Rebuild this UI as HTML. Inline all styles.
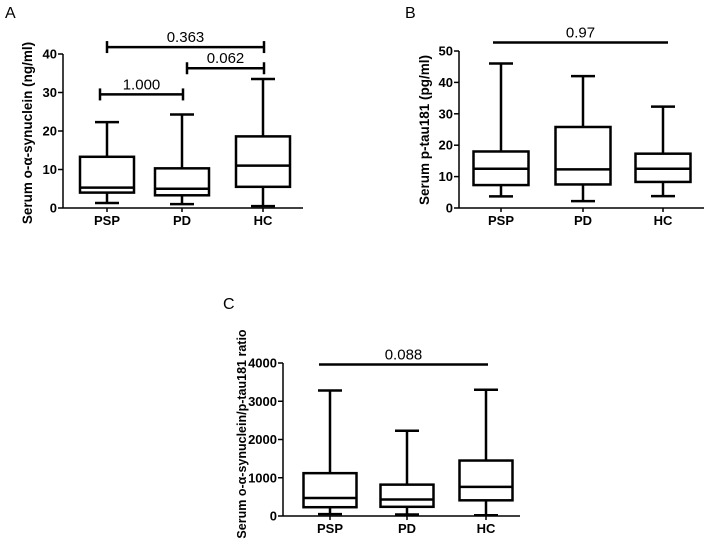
<!DOCTYPE html>
<html><head><meta charset="utf-8">
<style>
html,body{margin:0;padding:0;background:#fff;}
svg{display:block;font-family:"Liberation Sans",Arial,sans-serif;}
.tick{font-size:13px;font-weight:bold;}
.cat{font-size:13px;font-weight:bold;}
.ytitle{font-size:13.5px;font-weight:bold;}
.ytitlec{font-size:12.5px;font-weight:bold;}
.pv{font-size:15px;}
.panel{font-size:16px;}
</style></head>
<body>
<svg id="chart" width="709" height="550" viewBox="0 0 709 550" xmlns="http://www.w3.org/2000/svg"></svg>
<script>
// Panel A data (ng/ml)
const categories = ["PSP","PD","HC"];
const aMin = [1.3, 1.0, 0.5];
const aQ1  = [4.0, 3.3, 5.5];
const aMed = [5.3, 5.0, 11.0];
const aQ3  = [13.3, 10.3, 18.6];
const aMax = [22.3, 24.3, 33.5];
const aTicks = [0,10,20,30,40];
const aCompLabels = ["1.000","0.062","0.363"];
const aCompValues = [29.5, 36.3, 41.8];
// Panel B data (pg/ml)
const bMin = [3.7, 2.2, 3.8];
const bQ1  = [7.3, 7.5, 8.3];
const bMed = [12.5, 12.3, 12.5];
const bQ3  = [18.0, 25.8, 17.3];
const bMax = [46.0, 42.0, 32.3];
const bTicks = [0,10,20,30,40,50];
const bCompLabels = ["0.97"];
const bCompValues = [52.7];
// Panel C data (ratio)
const cMin = [50, 40, 20];
const cQ1  = [230, 240, 410];
const cMed = [470, 430, 760];
const cQ3  = [1120, 820, 1450];
const cMax = [3280, 2230, 3300];
const cTicks = [0,1000,2000,3000,4000];
const cCompLabels = ["0.088"];
const cCompValues = [3960];

const NS="http://www.w3.org/2000/svg";
const svg=document.getElementById('chart');
function mk(tag,attrs,parent){const e=document.createElementNS(NS,tag);for(const k in attrs)e.setAttribute(k,attrs[k]);(parent||svg).appendChild(e);return e;}

function panel(cfg){
  const g=mk('g',{});
  
  
  const y=v=>cfg.y0-(v-0)*(cfg.y0-cfg.yTop)/cfg.yMaxTick;
  const x=i=>cfg.cx[i];
  const L=mk('text',{x:cfg.letter[0],y:cfg.letter[1],class:'panel'},g);L.textContent=cfg.letterText;
  
  
  const ya=mk('line',{x1:cfg.ax,y1:y(cfg.ticks[cfg.ticks.length-1]),x2:cfg.ax,y2:cfg.y0,stroke:'#000','stroke-width':1.5},g);
  
  
  const xa=mk('line',{x1:cfg.ax,y1:cfg.y0,x2:cfg.axEnd,y2:cfg.y0,stroke:'#000','stroke-width':1.5},g);
  
  
  cfg.ticks.forEach(t=>{
    mk('line',{x1:cfg.ax-5,y1:y(t),x2:cfg.ax,y2:y(t),stroke:'#000','stroke-width':1.5},g);
    const tx=mk('text',{x:cfg.ax-6,y:y(t)+4.5,'text-anchor':'end',class:'tick'},g);
    tx.textContent=t;
    
    
  });
  const yt=mk('text',{x:0,y:0,'text-anchor':'middle',class:cfg.titleClass,transform:`translate(${cfg.titleX},${cfg.titleY}) rotate(-90)`},g);
  yt.innerHTML=cfg.title;
  
  
  const w=cfg.bw/2, cw=12;
  categories.forEach((c,i)=>{
    const bg=mk('g',{fill:'none',stroke:'#000','stroke-width':2.5},g);
    
    
    mk('line',{x1:x(i),y1:y(cfg.mx[i]),x2:x(i),y2:y(cfg.q3[i])},bg);
    mk('line',{x1:x(i),y1:y(cfg.q1[i]),x2:x(i),y2:y(cfg.mn[i])},bg);
    mk('line',{x1:x(i)-cw,y1:y(cfg.mx[i]),x2:x(i)+cw,y2:y(cfg.mx[i])},bg);
    mk('line',{x1:x(i)-cw,y1:y(cfg.mn[i]),x2:x(i)+cw,y2:y(cfg.mn[i])},bg);
    mk('rect',{x:x(i)-w,y:y(cfg.q3[i]),width:cfg.bw,height:y(cfg.q1[i])-y(cfg.q3[i])},bg);
    mk('line',{x1:x(i)-w,y1:y(cfg.md[i]),x2:x(i)+w,y2:y(cfg.md[i])},bg);
    mk('line',{x1:x(i),y1:cfg.y0,x2:x(i),y2:cfg.y0+4,stroke:'#000','stroke-width':1.5},g);
    const ct=mk('text',{x:x(i),y:cfg.y0+17,'text-anchor':'middle',class:'cat'},g);
    ct.textContent=c;
    
    
  });
  cfg.comps.forEach((cp,k)=>{
    const yy=y(cfg.compV[k]);
    const bg=mk('g',{stroke:'#000','stroke-width':2.5},g);
    
    
    mk('line',{x1:cp[0],y1:yy,x2:cp[1],y2:yy},bg);
    if(cfg.caps){mk('line',{x1:cp[0],y1:yy-6,x2:cp[0],y2:yy+6},bg);mk('line',{x1:cp[1],y1:yy-6,x2:cp[1],y2:yy+6},bg);}
    const t=mk('text',{x:(cp[0]+cp[1])/2,y:yy-5,'text-anchor':'middle',class:'pv'},g);
    t.textContent=cfg.compL[k];
    
    
  });
}
panel({name:'panel-a',letterText:'A',letter:[5,18],ax:63,axEnd:303,y0:208,yTop:54,yMaxTick:40,ticks:aTicks,
  cx:[107,182,263],bw:54,mn:aMin,q1:aQ1,md:aMed,q3:aQ3,mx:aMax,
  title:'Serum o-&#945;-synuclein (ng/ml)',titleClass:'ytitle',titleX:32,titleY:133,
  comps:[[100,183],[187,264],[107,264]],compV:aCompValues,compL:aCompLabels,caps:true});
panel({name:'panel-b',letterText:'B',letter:[405,18],ax:459,axEnd:704,y0:208,yTop:51,yMaxTick:50,ticks:bTicks,
  cx:[501,583,663],bw:55,mn:bMin,q1:bQ1,md:bMed,q3:bQ3,mx:bMax,
  title:'Serum p-tau181 (pg/ml)',titleClass:'ytitle',titleX:429,titleY:130,
  comps:[[493,668]],compV:bCompValues,compL:bCompLabels,caps:false});
panel({name:'panel-c',letterText:'C',letter:[223,309],ax:283,axEnd:520,y0:516,yTop:363,yMaxTick:4000,ticks:cTicks,
  cx:[330,407,486],bw:53,mn:cMin,q1:cQ1,md:cMed,q3:cQ3,mx:cMax,
  title:'Serum o-&#945;-synuclein/p-tau181 ratio',titleClass:'ytitlec',titleX:246,titleY:434,
  comps:[[319,488]],compV:cCompValues,compL:cCompLabels,caps:false});
</script>
</body></html>
